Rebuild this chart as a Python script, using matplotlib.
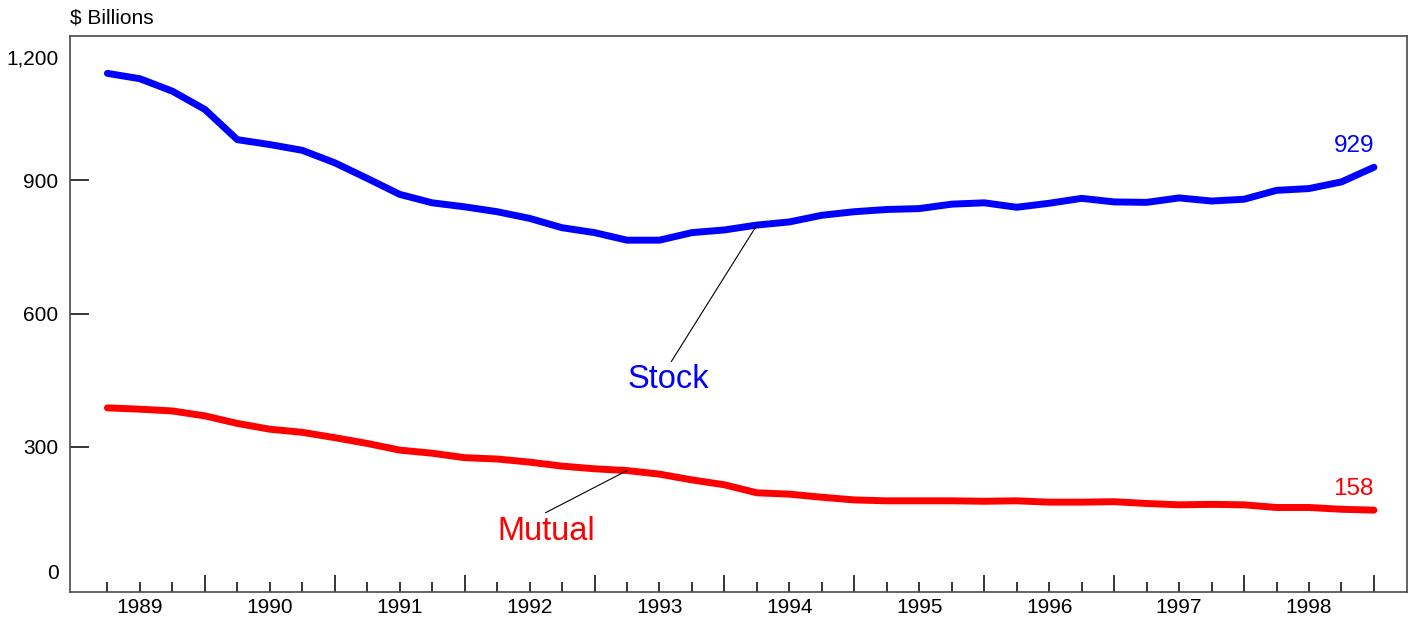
"""Stock vs mutual holdings, quarterly, $ billions."""

import matplotlib

matplotlib.use("Agg")
import matplotlib.pyplot as plt
import matplotlib.transforms as mtransforms
import numpy as np

plt.rcParams["font.family"] = ["Liberation Sans", "DejaVu Sans"]

# quarter-end dates, 1989Q1 .. 1998Q4
QUARTERS = np.arange(1989.25, 1999.01, 0.25)
YEARS = [1989, 1990, 1991, 1992, 1993, 1994, 1995, 1996, 1997, 1998]

STOCK = [1140, 1128, 1100, 1059, 991, 980, 967, 939, 904, 868,
         849, 840, 829, 814, 793, 782, 765, 765, 782, 788,
         799, 806, 821, 829, 834, 836, 846, 849, 839, 848,
         859, 851, 850, 860, 853, 857, 877, 881, 896, 929]
MUTUAL = [388, 385, 381, 370, 353, 340, 333, 321, 308, 293,
          286, 276, 273, 266, 257, 251, 247, 239, 226, 215,
          197, 194, 187, 181, 179, 179, 179, 178, 179, 176,
          176, 177, 173, 170, 171, 170, 164, 164, 160, 158]

Y_TICKS = [300, 600, 900]
Y_TICK_LABELS = ["300", "600", "900"]

BLUE = "#0000FF"
RED = "#FF0000"
FRAME = "#4A4A4A"
TICK_FS = 15


def main() -> None:
    fig = plt.figure(figsize=(14.14, 6.21), dpi=100)
    ax = fig.add_axes([0.0495, 0.0467, 0.9455, 0.8953])

    ax.plot(QUARTERS, STOCK, color=BLUE, lw=5, solid_capstyle="round",
            solid_joinstyle="round")
    ax.plot(QUARTERS, MUTUAL, color=RED, lw=5, solid_capstyle="round",
            solid_joinstyle="round")

    ax.set_xlim(1988.962, 1999.254)
    ax.set_ylim(-26, 1224)

    for side in ("top", "right", "bottom", "left"):
        ax.spines[side].set_color(FRAME)
        ax.spines[side].set_linewidth(1.2)

    # y axis: inward ticks, outer labels placed by hand
    ax.set_yticks(Y_TICKS)
    ax.set_yticklabels(Y_TICK_LABELS, fontsize=TICK_FS)
    ax.tick_params(axis="y", direction="in", length=13.7, width=1.1,
                   color="black", pad=8.6)
    ytrans = mtransforms.blended_transform_factory(ax.transAxes, ax.transData)
    ax.text(-0.0085, 16, "0", transform=ytrans, ha="right", va="center",
            fontsize=TICK_FS)
    ax.text(-0.0085, 1172, "1,200", transform=ytrans, ha="right",
            va="center", fontsize=TICK_FS)

    # x axis: quarter ticks, longer at year boundaries, labels mid-year
    year_bounds = [y + 1 for y in YEARS]
    quarter_ticks = [q for q in QUARTERS if q not in year_bounds]
    ax.set_xticks(year_bounds)
    ax.set_xticks(quarter_ticks, minor=True)
    ax.set_xticklabels([])
    ax.tick_params(axis="x", which="major", direction="in", length=12.5,
                   width=1.1, color="black")
    ax.tick_params(axis="x", which="minor", direction="in", length=7.5,
                   width=1.1, color="black")
    xtrans = mtransforms.blended_transform_factory(ax.transData, ax.transAxes)
    for y in YEARS:
        ax.annotate(str(y), xy=(y + 0.5, 0), xycoords=xtrans,
                    xytext=(0, -11), textcoords="offset points",
                    ha="center", va="center", fontsize=TICK_FS)

    # series labels with leader lines
    ax.annotate("Stock", xy=(QUARTERS[20], STOCK[20]), xytext=(1993.565, 451),
                ha="center", va="center", fontsize=23.5, color=BLUE,
                arrowprops=dict(arrowstyle="-", color="black", lw=0.8,
                                shrinkA=0, shrinkB=0, relpos=(0.52, 1.0)))
    ax.annotate("Mutual", xy=(QUARTERS[16], MUTUAL[16]),
                xytext=(1992.626, 111), ha="center", va="center",
                fontsize=23.5, color=RED,
                arrowprops=dict(arrowstyle="-", color="black", lw=0.8,
                                shrinkA=0, shrinkB=0, relpos=(0.44, 1.0)))

    ax.annotate(f"{STOCK[-1]}", xy=(QUARTERS[-1], STOCK[-1]),
                xytext=(0, 15), textcoords="offset points",
                ha="right", va="center", fontsize=17.5, color=BLUE)
    ax.annotate(f"{MUTUAL[-1]}", xy=(QUARTERS[-1], MUTUAL[-1]),
                xytext=(0, 15), textcoords="offset points",
                ha="right", va="center", fontsize=17.5, color=RED)

    fig.text(70 / 1414, 1 - 18 / 621, "$ Billions", ha="left", va="center",
             fontsize=TICK_FS)

    fig.savefig("out.png", dpi=100)
    plt.close(fig)


if __name__ == "__main__":
    main()
